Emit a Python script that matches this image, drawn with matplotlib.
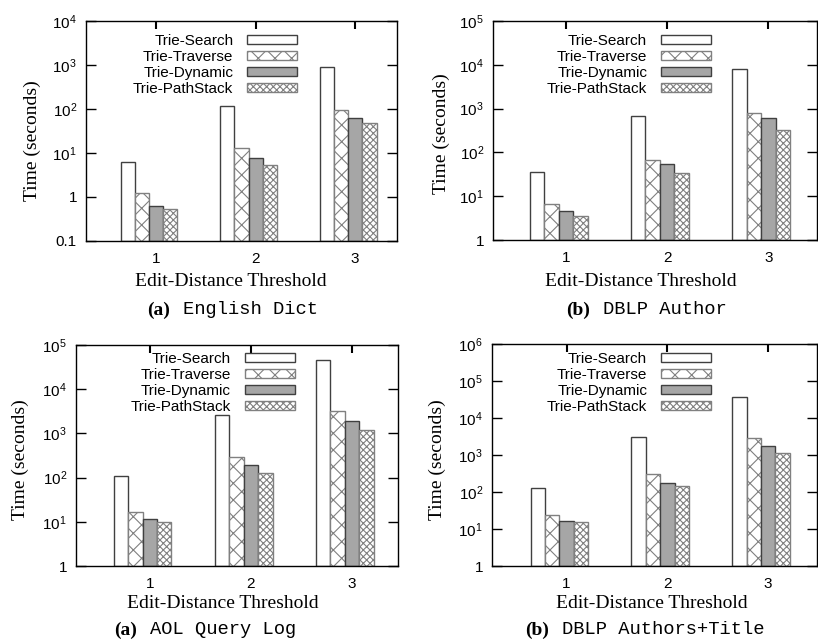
"""
Edit-distance query time for four trie algorithms on four datasets (2x2 panels)
"""

import matplotlib
matplotlib.use('Agg')
import matplotlib.pyplot as plt
import numpy as np
from matplotlib.ticker import FixedLocator, FixedFormatter, NullLocator

plt.rcParams['font.family'] = ['Liberation Sans', 'DejaVu Sans']
plt.rcParams['hatch.linewidth'] = 0.8

# data
thresholds = [1, 2, 3]
methods = ['Trie-Search', 'Trie-Traverse', 'Trie-Dynamic', 'Trie-PathStack']

english_dict = [
    [6.2, 117, 900],
    [1.23, 13, 95],
    [0.64, 7.5, 64],
    [0.53, 5.2, 49],
]
dblp_author = [
    [36, 680, 8000],
    [6.6, 67, 780],
    [4.7, 54, 600],
    [3.6, 34, 325],
]
aol_query_log = [
    [108, 2600, 46000],
    [17, 290, 3200],
    [11.3, 190, 1900],
    [10, 124, 1200],
]
dblp_authors_title = [
    [127, 3150, 38000],
    [24, 300, 2800],
    [16.5, 170, 1750],
    [15, 145, 1120],
]

captions = ['(a)', '(b)', '(a)', '(b)']
dataset_names = ['English Dict', 'DBLP Author', 'AOL Query Log', 'DBLP Authors+Title']
ytick_exponents = [
    [-1, 0, 1, 2, 3, 4],
    [0, 1, 2, 3, 4, 5],
    [0, 1, 2, 3, 4, 5],
    [0, 1, 2, 3, 4, 5, 6],
]

W, H = 818, 641


def exp_label(e):
    if e == -1:
        return '0.1'
    if e == 0:
        return '1'
    return r'$\mathregular{10^{%d}}$' % e


def rect(l, r, t, b):
    return [l / W, 1 - b / H, (r - l) / W, (b - t) / H]


# styles per method: facecolor, edgecolor, hatch
styles = [
    ('white', '#404040', None),
    ('white', '#808080', 'xx'),
    ('#a6a6a6', '#404040', None),
    ('white', '#808080', 'xxxxx'),
]

# panel layout in pixels: axes box, x-limits, legend anchor, label positions
panels = [
    dict(box=(86, 397, 21, 241), xlim=(0.296, 3.42), leg=(0.68, 0.94),
         ylab=(32, 141), xlab=(231, 282), cap=(183, 310)),
    dict(box=(493, 817, 21, 240), xlim=(0.28, 3.48), leg=(0.674, 0.94),
         ylab=(441, 134), xlab=(641, 282), cap=(603, 310)),
    dict(box=(76, 398, 345, 566), xlim=(0.27, 3.455), leg=(0.68, 0.968),
         ylab=(20, 460), xlab=(223, 603), cap=(150, 630)),
    dict(box=(492, 817, 344, 566), xlim=(0.26, 3.485), leg=(0.675, 0.964),
         ylab=(437, 460), xlab=(652, 603), cap=(562, 630)),
]

datasets = [english_dict, dblp_author, aol_query_log, dblp_authors_title]

fig = plt.figure(figsize=(W / 100, H / 100), dpi=100)

w = 1 / 7
x = np.array(thresholds, dtype=float)

for k, (values, cfg) in enumerate(zip(datasets, panels)):
    l, r, t, b = cfg['box']
    ax = fig.add_axes(rect(l, r, t, b))
    ax.set_yscale('log')
    exps = ytick_exponents[k]
    ymin, ymax = 10.0 ** exps[0], 10.0 ** exps[-1]

    handles = []
    for j, series in enumerate(values):
        fc, ec, hatch = styles[j]
        bars = ax.bar(x - 2.5 * w + j * w, np.array(series) - ymin, width=w,
                      bottom=ymin, align='edge', facecolor=fc, edgecolor=ec,
                      hatch=hatch, linewidth=1.0, zorder=2)
        handles.append(bars)

    ax.set_xlim(*cfg['xlim'])
    ax.set_ylim(ymin, ymax)
    ax.set_axisbelow(True)

    ax.yaxis.set_major_locator(FixedLocator([10.0 ** e for e in exps]))
    ax.yaxis.set_major_formatter(FixedFormatter([exp_label(e) for e in exps]))
    ax.yaxis.set_minor_locator(NullLocator())
    ax.set_xticks(thresholds)
    ax.set_xticklabels([str(v) for v in thresholds])

    ax.tick_params(axis='y', which='major', direction='in', left=True, right=True,
                   length=7, width=1, labelsize=11, pad=6.5)
    ax.tick_params(axis='x', which='major', direction='in', top=True, bottom=True,
                   length=6, width=1.5, labelsize=11, pad=8)
    for sp in ax.spines.values():
        sp.set_linewidth(1.0)
        sp.set_zorder(3)

    ax.legend(handles, methods, loc='upper right', bbox_to_anchor=cfg['leg'],
              markerfirst=False, frameon=False, fontsize=11, handlelength=3.3,
              handleheight=0.5, labelspacing=0.13, handletextpad=0.9,
              borderpad=0, borderaxespad=0)

    # axis titles and caption in serif / mono, placed in pixel coordinates
    yx, yy = cfg['ylab']
    fig.text(yx / W, 1 - yy / H, 'Time (seconds)', rotation=90, ha='center',
             va='center', family='Liberation Serif', fontsize=14)
    xx, xy = cfg['xlab']
    fig.text(xx / W, 1 - xy / H, 'Edit-Distance Threshold', ha='center',
             va='center', family='Liberation Serif', fontsize=14)
    cx, cy = cfg['cap']
    fig.text((cx - 13) / W, 1 - cy / H, captions[k], ha='right', va='center',
             family='Liberation Serif', fontweight='bold', fontsize=14)
    fig.text(cx / W, 1 - cy / H, dataset_names[k], ha='left', va='center',
             family='Liberation Mono', fontsize=13.5)

fig.savefig('out.png', dpi=100)
plt.close(fig)
